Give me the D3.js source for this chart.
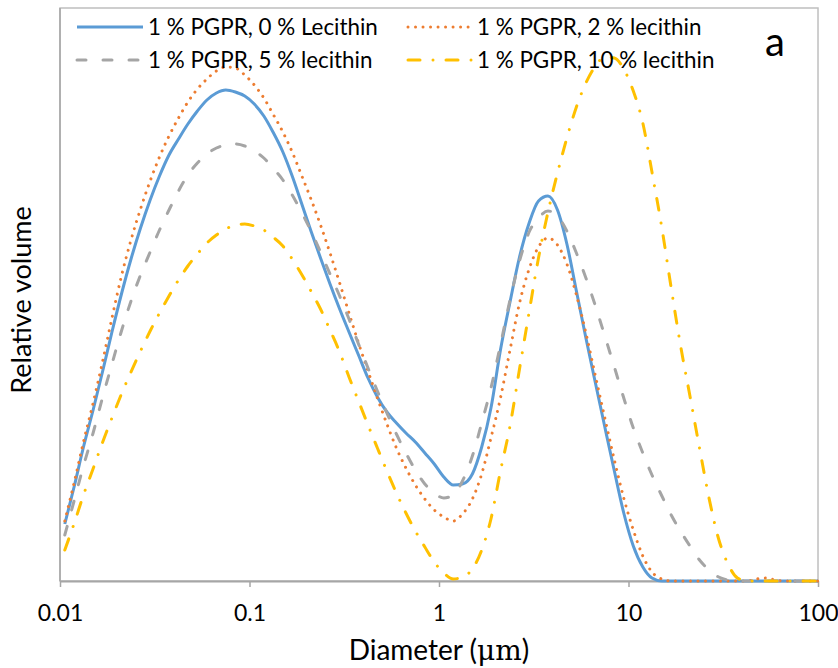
<!DOCTYPE html>
<html><head><meta charset="utf-8">
<script src="https://cdn.jsdelivr.net/npm/d3@7"></script>
<style>body{margin:0;background:#fff} text{font-family:Lato,"Open Sans",sans-serif;fill:#000}</style>
</head><body>
<svg id="c" width="838" height="668"></svg>
<script>
// Diameter classes (µm)
const diameters = [0.0106,0.0119,0.0133,0.0150,0.0168,0.0188,0.0211,0.0237,0.0266,0.0299,0.0335,0.0376,0.0422,0.0473,0.0531,0.0596,0.0669,0.0750,0.0842,0.0944,0.106,0.119,0.133,0.150,0.168,0.188,0.211,0.237,0.266,0.299,0.335,0.376,0.422,0.473,0.531,0.596,0.669,0.750,0.842,0.944,1.06,1.19,1.33,1.50,1.68,1.88,2.11,2.37,2.66,2.99,3.35,3.76,4.22,4.73,5.31,5.96,6.69,7.50,8.42,9.44,10.6,11.9,13.3,15.0,16.8,18.8,21.1,23.7,26.6,29.9,33.5,37.6,42.2,47.3,53.1,59.6,66.9,75.0,84.2,94.4,100];

// Relative volume (arbitrary units)
const lec0 = [57,95,134,172,210,249,287,322,353,381,405,426,442,457,470,481,488,491,489,485,477,465,449,429,405,378,350,323,297,272,249,226,203,184,169,158,148,139,128,117,104,96,97,107,134,173,231,279,324,358,380,385,371,337,290,243,198,154,110,68,35,14,3,0,0,0,0,0,0,0,0,0,0,0,0,0,0,0,0,0,0];
const lec2 = [60,99,139,179,220,263,305,341,372,400,424,445,463,479,492,502,510,514,513,506,496,483,467,449,429,406,382,356,328,298,268,238,210,183,157,133,113,96,82,71,64,60,67,82,107,143,183,231,278,312,334,343,336,317,286,248,205,163,121,83,51,25,9,2,0,0,0,0,0,0,0,0,0,2,3,1,0,0,0,0,0];
const lec5 = [46,81,115,149,184,217,250,280,306,329,351,371,390,406,418,427,433,436,437,435,430,423,413,401,386,369,350,329,307,285,262,237,213,190,168,147,128,111,97,88,83,86,100,125,158,193,236,281,320,349,363,370,365,350,328,303,275,245,214,183,153,128,106,85,66,50,35,21,11,4,1,0,0,0,0,0,0,0,0,0,0];
const lec10 = [31,58,86,113,139,163,187,209,230,250,268,285,301,315,327,338,346,352,356,357,355,351,344,335,322,307,290,272,251,229,204,180,156,133,110,88,68,50,34,19,8,2,4,12,31,62,110,155,212,269,323,369,408,443,474,498,515,524,523,512,490,458,409,353,293,236,185,133,83,42,17,3,0,0,0,0,0,0,0,0,0];

const seriesNames = ["1 % PGPR, 0 % Lecithin","1 % PGPR, 2 % lecithin","1 % PGPR, 5 % lecithin","1 % PGPR, 10 % lecithin"];
const seriesValues = [lec0, lec2, lec5, lec10];
const seriesColors = ["#5B9BD5","#ED7D31","#A5A5A5","#FFC000"];
const seriesDash = [null, "0.01 7.5", "9 17", "12 13 0.01 13"];

const tickValues = [0.01,0.1,1,10,100];
const tickLabels = ["0.01","0.1","1","10","100"];
const xTitle = "Diameter (";
const xUnit = "μm";
const yTitle = "Relative volume";
const panelLabel = "a";

const svg = d3.select("#c");
const L = 60, R = 818, T = 8, B = 581;
const x = d3.scaleLog().domain([0.01,100]).range([L,R]);
const y = d3.scaleLinear().domain([0,573]).range([B,T]);

// plot border
svg.append("rect").attr("x",L).attr("y",T).attr("width",R-L).attr("height",B-T)
  .attr("fill","none").attr("stroke","#BFBFBF").attr("stroke-width",1.5);
svg.append("line").attr("x1",L).attr("x2",L).attr("y1",T).attr("y2",B)
  .attr("stroke","#A6A6A6").attr("stroke-width",1.5);

// x axis
const ax = svg.append("g").attr("transform",`translate(0,${B})`)
  .call(d3.axisBottom(x).tickValues(tickValues).tickFormat((d,i)=>tickLabels[i]).tickSize(6).tickSizeOuter(0));
ax.select(".domain").attr("stroke","#A6A6A6").attr("stroke-width",2);
ax.selectAll(".tick line").attr("stroke","#A6A6A6").attr("stroke-width",1.5);
ax.selectAll(".tick text").attr("font-size",23).attr("font-family","Lato").attr("fill","#000").attr("dy",0).attr("y",40);

// lines
const line = d3.line().x((d,i)=>x(diameters[i])).y(d=>y(d)).curve(d3.curveMonotoneX);
seriesValues.forEach((vals,s)=>{
  const p = svg.append("path").datum(vals).attr("d",line).attr("fill","none")
    .attr("stroke",seriesColors[s]).attr("stroke-width",3)
    .attr("stroke-linecap", s===0 ? "butt" : "round").attr("stroke-linejoin","round");
  if (seriesDash[s]) p.attr("stroke-dasharray",seriesDash[s]);
});

// legend
const legPos = [[77,27],[408,27],[77,60],[408,60]];
const legLen = [66,64,66,64];
const legTexts = [];
seriesNames.forEach((n,s)=>{
  const [lx,ly] = legPos[s];
  const p = svg.append("line").attr("x1",lx).attr("x2",lx+legLen[s]).attr("y1",ly).attr("y2",ly)
    .attr("stroke",seriesColors[s]).attr("stroke-width",3)
    .attr("stroke-linecap", s===0 ? "butt" : "round");
  if (seriesDash[s]) p.attr("stroke-dasharray",seriesDash[s]);
  legTexts.push(svg.append("text").attr("x",lx+legLen[s]+5).attr("y",ly+8).attr("font-size",22).text(n));
});
const w0 = legTexts[0].node().getComputedTextLength();
const legFs = 22*230/w0;
legTexts.forEach(t=>t.attr("font-size",legFs));

// panel label
svg.append("text").attr("x",775).attr("y",56).attr("text-anchor","middle").attr("font-size",40).text(panelLabel);

// axis titles
const xt = svg.append("text").attr("x",(L+R)/2).attr("y",660).attr("text-anchor","middle").attr("font-size",28);
xt.append("tspan").text(xTitle);
xt.append("tspan").attr("font-family","'DejaVu Serif','Liberation Serif',serif").text(xUnit);
xt.append("tspan").text(")");
svg.append("text").attr("transform",`translate(31,300) rotate(-90)`).attr("text-anchor","middle").attr("font-size",27).text(yTitle);
</script>
</body></html>
